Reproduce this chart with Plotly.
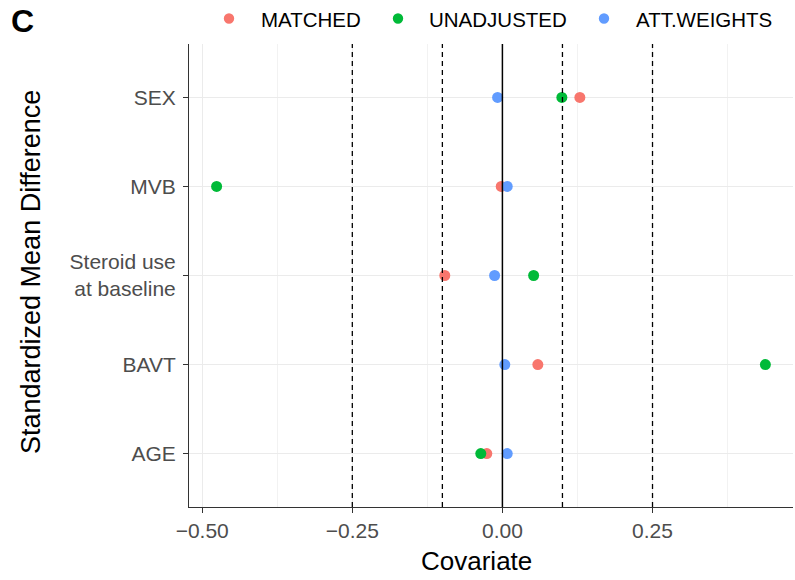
import plotly.graph_objects as go

# Covariates, top to bottom as drawn
covariates = ["SEX", "MVB", "Steroid use<br>at baseline", "BAVT", "AGE"]

# Standardized mean differences per adjustment method
matched = [0.129, -0.002, -0.096, 0.059, -0.026]
unadjusted = [0.099, -0.476, 0.052, 0.438, -0.036]
att_weights = [-0.008, 0.008, -0.013, 0.004, 0.008]

series_names = ["MATCHED", "UNADJUSTED", "ATT.WEIGHTS"]
series_values = [matched, unadjusted, att_weights]
series_colors = ["#F8766D", "#00BA38", "#619CFF"]

# Reference thresholds
thresholds = [-0.25, -0.1, 0.1, 0.25]

x_major = [-0.5, -0.25, 0.0, 0.25]
x_minor = [-0.375, -0.125, 0.125, 0.375]

FONT = "Liberation Sans, Arial, Helvetica, sans-serif"

W, H = 795, 580
ML, MR, MT, MB = 189, 2, 44, 73
PW, PH = W - ML - MR, H - MT - MB


def px_x(p):
    return (p - ML) / PW


def px_y(p):
    return (H - MB - p) / PH


fig = go.Figure()
for name, vals, color in zip(series_names, series_values, series_colors):
    fig.add_trace(go.Scatter(
        x=vals, y=covariates, mode="markers", name=name, showlegend=False,
        marker=dict(color=color, size=11, line=dict(width=0)),
    ))

for t in thresholds:
    fig.add_vline(x=t, line=dict(color="black", width=1.3, dash="5px,4px"), layer="above")
fig.add_vline(x=0, line=dict(color="black", width=1.5), layer="above")

# Horizontal legend row above the panel: key dot + label per series
key_x = [229, 398, 604]
label_x = [260, 428, 635]
annotations = []
for name, color, kx, lx in zip(series_names, series_colors, key_x, label_x):
    fig.add_shape(
        type="circle", xref="paper", yref="paper",
        xsizemode="pixel", ysizemode="pixel",
        xanchor=px_x(kx), yanchor=px_y(18.5),
        x0=-5.2, x1=5.2, y0=-5.2, y1=5.2,
        fillcolor=color, line=dict(width=0), layer="above",
    )
    annotations.append(dict(
        text=name, xref="paper", yref="paper", x=px_x(lx - 1), y=px_y(20),
        xanchor="left", yanchor="middle", showarrow=False,
        font=dict(size=20.5, color="black", family=FONT),
    ))

annotations += [
    dict(text="<b>C</b>", xref="paper", yref="paper", x=px_x(9), y=px_y(21),
         xanchor="left", yanchor="middle", showarrow=False,
         font=dict(size=32, color="black", family=FONT)),
    dict(text="Covariate", xref="paper", yref="paper", x=px_x(476), y=px_y(561),
         xanchor="center", yanchor="middle", showarrow=False,
         font=dict(size=26, color="black", family=FONT)),
    dict(text="Standardized Mean Difference", xref="paper", yref="paper",
         x=px_x(31), y=px_y(272), xanchor="center", yanchor="middle",
         textangle=-90, showarrow=False,
         font=dict(size=27, color="black", family=FONT)),
]

fig.update_layout(
    width=W, height=H,
    margin=dict(l=ML, r=MR, t=MT, b=MB, autoexpand=False),
    paper_bgcolor="white", plot_bgcolor="white",
    font=dict(family=FONT, color="#4D4D4D", size=21),
    showlegend=False,
    annotations=annotations,
)

fig.update_xaxes(
    range=[-0.522, 0.484],
    tickmode="array", tickvals=x_major, tickformat=".2f",
    ticks="outside", ticklen=5, tickcolor="#333333", tickwidth=1,
    showline=True, linecolor="#333333", linewidth=1,
    showgrid=True, gridcolor="#EBEBEB", gridwidth=1.1,
    minor=dict(tickmode="array", tickvals=x_minor, showgrid=True,
               gridcolor="#F2F2F2", gridwidth=0.6, ticks=""),
    zeroline=False,
    tickfont=dict(size=21, color="#4D4D4D"),
)

fig.update_yaxes(
    type="category", categoryorder="array", categoryarray=covariates[::-1],
    range=[-0.6, 4.6],
    ticks="outside", ticklen=5, tickcolor="#333333", tickwidth=1,
    ticklabelstandoff=3,
    showline=True, linecolor="#333333", linewidth=1,
    showgrid=True, gridcolor="#EBEBEB", gridwidth=1.1,
    zeroline=False,
    tickfont=dict(size=21, color="#4D4D4D"),
)

fig.write_html("out.html")
